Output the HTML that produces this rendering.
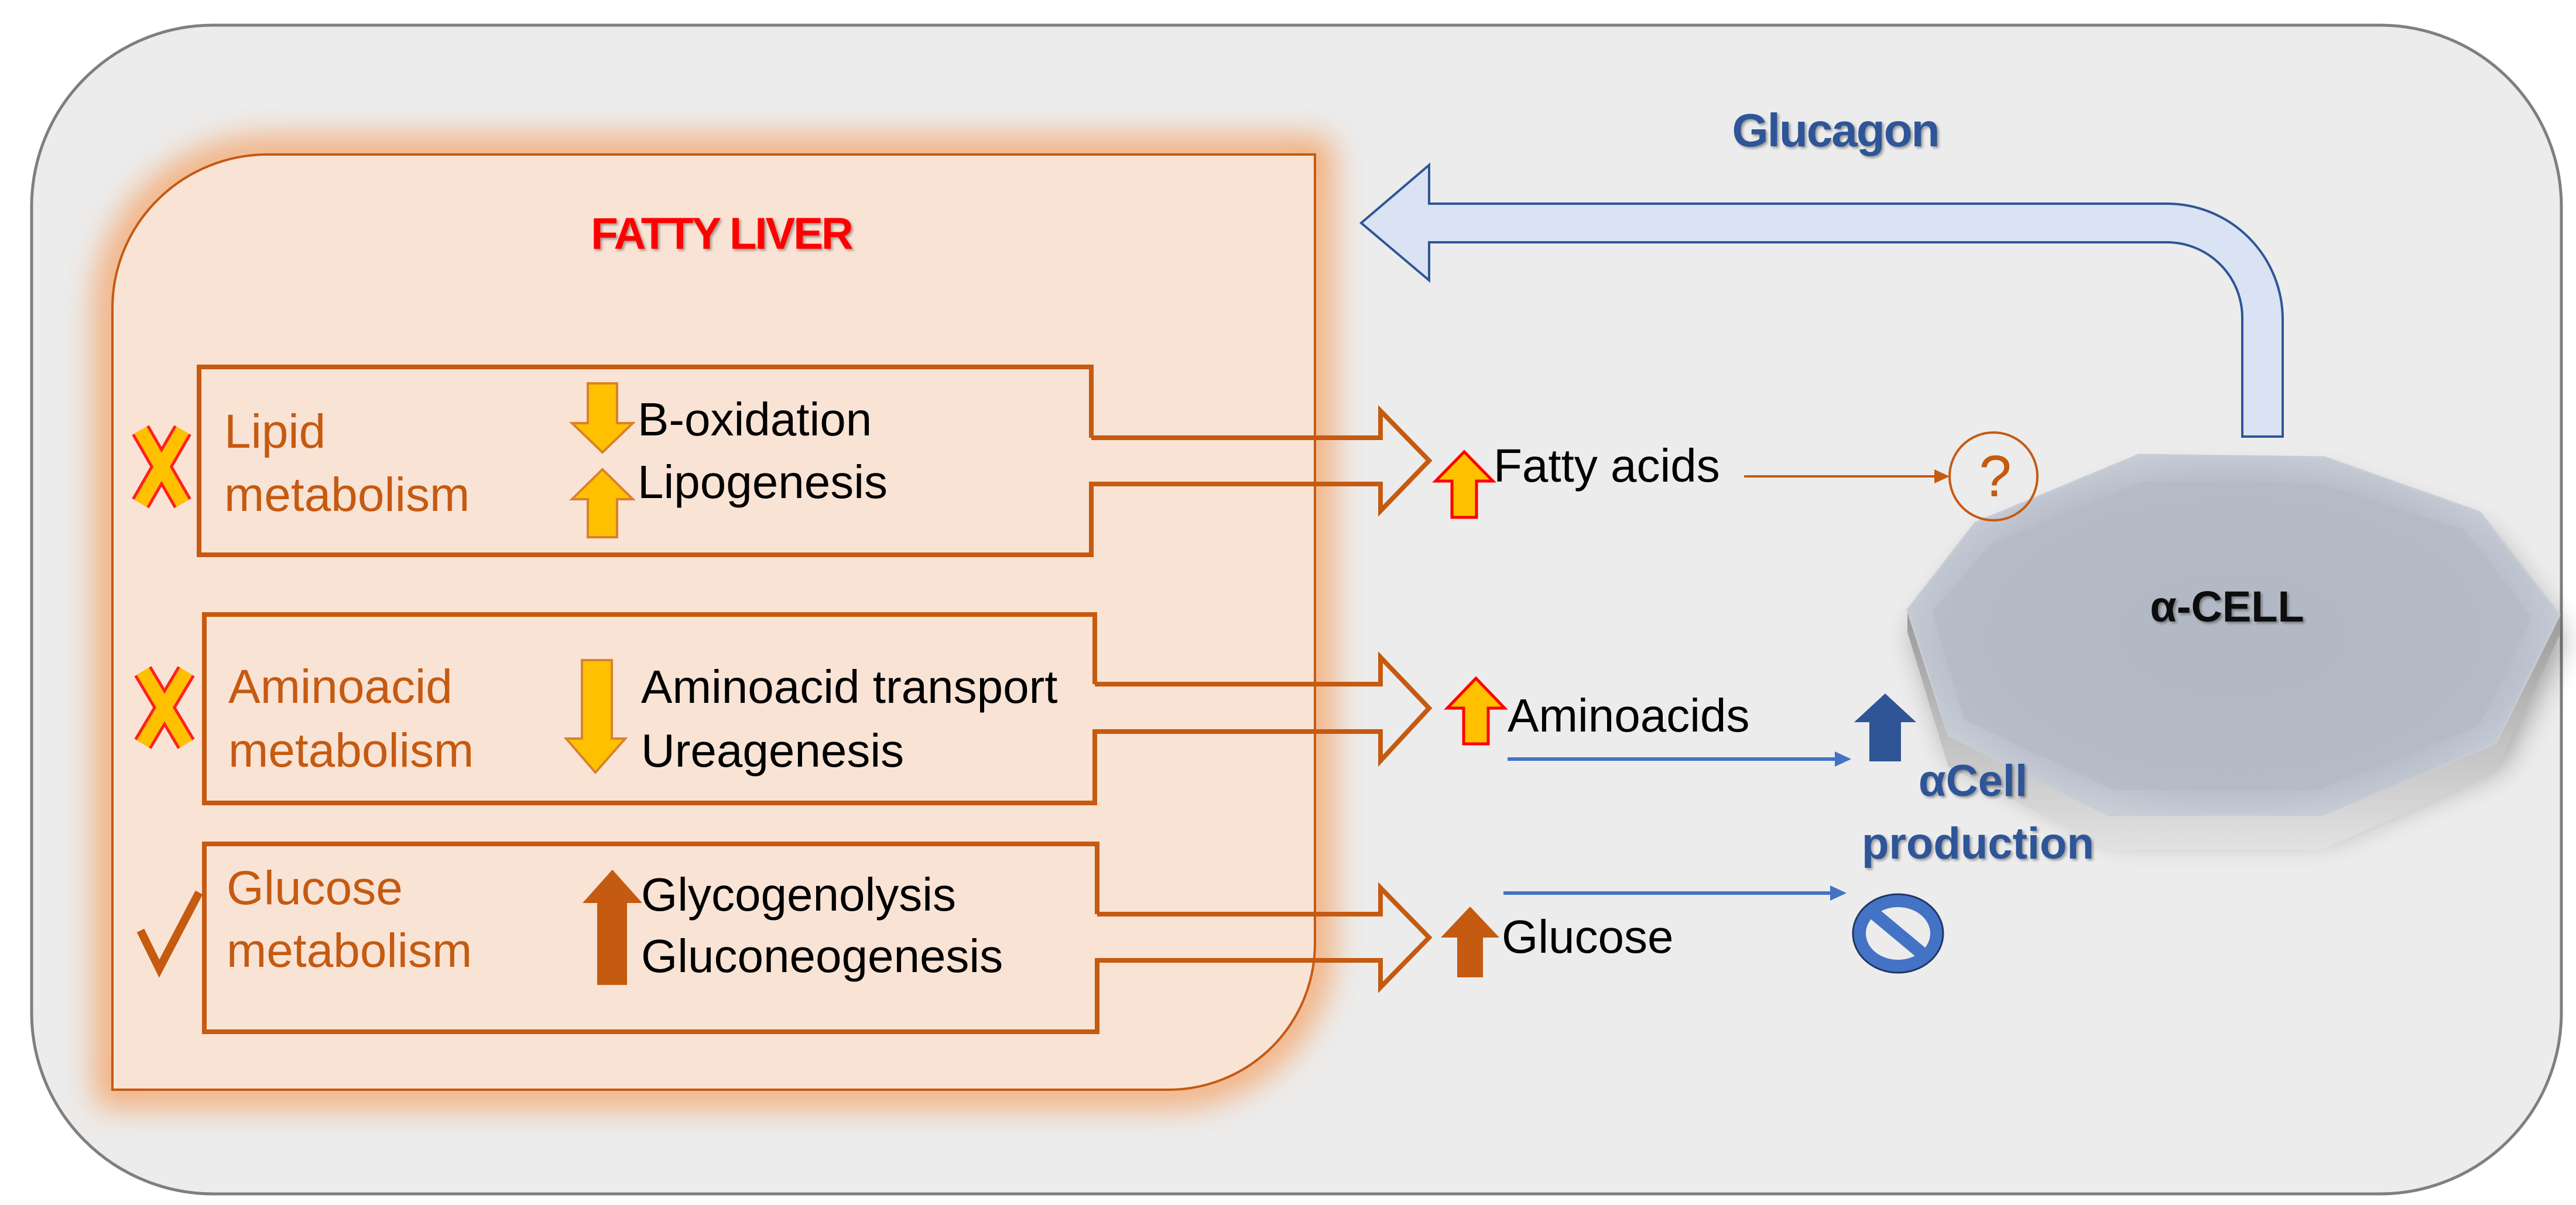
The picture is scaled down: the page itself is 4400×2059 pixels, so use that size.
<!DOCTYPE html>
<html><head><meta charset="utf-8"><style>
html,body{margin:0;padding:0;background:#fff}
svg{display:block}
text{font-family:"Liberation Sans",sans-serif}
</style></head><body>
<svg width="4400" height="2059" viewBox="0 0 4400 2059" xmlns="http://www.w3.org/2000/svg">
<defs>
<filter id="glow" x="-10%" y="-10%" width="120%" height="120%"><feGaussianBlur stdDeviation="28"/></filter>
<filter id="sh" x="-20%" y="-20%" width="140%" height="140%"><feGaussianBlur stdDeviation="25"/></filter>
<filter id="ts" x="-10%" y="-10%" width="120%" height="130%"><feDropShadow dx="3" dy="3" stdDeviation="2" flood-color="#000" flood-opacity="0.35"/></filter>
<radialGradient id="cellg" cx="50%" cy="50%" r="60%">
<stop offset="0" stop-color="#b0b6c2"/><stop offset="0.7" stop-color="#b6bcc8"/><stop offset="1" stop-color="#d6dbe4"/></radialGradient>
<linearGradient id="side" x1="0" y1="0" x2="0" y2="1"><stop offset="0" stop-color="#9a9a9a"/><stop offset="1" stop-color="#e2e2e2"/></linearGradient>
</defs>
<rect x="54" y="43" width="4321" height="1997" rx="310" ry="310" fill="#ececec" stroke="#7f7f7f" stroke-width="5"/>
<path d="M192,527 A265,263 0 0 1 457,264 H2246 V1612 A250,250 0 0 1 1996,1862 H192 Z" fill="none" stroke="#f4a66c" stroke-width="55" filter="url(#glow)"/>
<path d="M192,527 A265,263 0 0 1 457,264 H2246 V1612 A250,250 0 0 1 1996,1862 H192 Z" fill="#f9e3d5" stroke="#c55a11" stroke-width="4"/>
<text x="1232" y="425" font-size="76" font-weight="bold" fill="#ff0000" text-anchor="middle" filter="url(#ts)" letter-spacing="-3">FATTY LIVER</text>

<g fill="none" stroke="#c55a11" stroke-width="8" stroke-linejoin="miter">
<path d="M1864,748 V627 H340 V948 H1864 V827 H2358 V873 L2441,787 L2358,702 V748 H1864"/>
<path d="M1870,1169 V1050 H349 V1372 H1870 V1250 H2358 V1300 L2441,1210 L2358,1123 V1169 H1870"/>
<path d="M1874,1562 V1442 H349 V1763 H1874 V1641 H2358 V1687 L2441,1602 L2358,1517 V1562 H1874"/>
</g>

<g font-size="82" fill="#c55a11">
<text x="383" y="765">Lipid</text>
<text x="383" y="873">metabolism</text>
<text x="390" y="1201">Aminoacid</text>
<text x="390" y="1310">metabolism</text>
<text x="387" y="1545">Glucose</text>
<text x="387" y="1652">metabolism</text>
</g>
<g font-size="80" fill="#000">
<text x="1089" y="744">B-oxidation</text>
<text x="1089" y="851">Lipogenesis</text>
<text x="1095" y="1201">Aminoacid transport</text>
<text x="1095" y="1310">Ureagenesis</text>
<text x="1095" y="1556">Glycogenolysis</text>
<text x="1095" y="1661">Gluconeogenesis</text>
</g>

<path d="M1004,655 H1054 V723 H1081 L1029,773 L977,723 H1004 Z" fill="#ffc000" stroke="#d9822b" stroke-width="4"/>
<path d="M1029,802 L1081,853 H1054 V918 H1004 V853 H977 Z" fill="#ffc000" stroke="#d9822b" stroke-width="4"/>
<path d="M994,1128 H1045 V1262 H1068 L1017,1320 L967,1262 H994 Z" fill="#ffc000" stroke="#d9822b" stroke-width="4"/>
<path d="M1046,1486 L1097,1543 H1071 V1683 H1020 V1543 H995 Z" fill="#c55a11"/>

<g stroke-linecap="butt">
<path d="M240,735 L312,860 M312,735 L240,860" stroke="#ff2020" stroke-width="34"/>
<path d="M240,735 L312,860 M312,735 L240,860" stroke="#ffc000" stroke-width="24"/>
<path d="M244,1147 L318,1271 M318,1147 L244,1271" stroke="#ff2020" stroke-width="34"/>
<path d="M244,1147 L318,1271 M318,1147 L244,1271" stroke="#ffc000" stroke-width="24"/>
</g>
<path d="M240,1590 L272,1655 L340,1525" fill="none" stroke="#c55a11" stroke-width="14"/>

<path d="M2501,772 L2550,822 H2522 V884 H2480 V822 H2452 Z" fill="#ffc000" stroke="#ff0000" stroke-width="5"/>
<path d="M2521,1159 L2570,1210 H2542 V1271 H2500 V1210 H2472 Z" fill="#ffc000" stroke="#ff0000" stroke-width="5"/>
<path d="M2511,1549 L2561,1602 H2533 V1670 H2489 V1602 H2461 Z" fill="#c55a11"/>
<g font-size="80" fill="#000">
<text x="2551" y="823">Fatty acids</text>
<text x="2575" y="1250">Aminoacids</text>
<text x="2565" y="1628">Glucose</text>
</g>

<path d="M2325,381 L2441,282 L2441,348 L3701,348 A198,198 0 0 1 3899,546 L3899,746 L3830,746 L3830,543 A129,129 0 0 0 3701,414 L2441,414 L2441,479 Z" fill="#dae3f3" stroke="#2f5597" stroke-width="4"/>
<text x="3135" y="250" font-size="80" font-weight="bold" fill="#2f5597" text-anchor="middle" filter="url(#ts)" letter-spacing="-2">Glucagon</text>

<polygon points="3653,790 3970,794 4236,888 4372,1064 4263,1283 3966,1406 3602,1406 3328,1270 3258,1055 3374,906" fill="#000" opacity="0.35" filter="url(#sh)" transform="translate(10,25)"/>
<polygon points="3258,1042 3328,1257 3602,1393 3966,1393 4263,1270 4372,1051 4372,1085 4263,1320 3966,1452 3602,1452 3328,1310 3258,1080" fill="url(#side)"/>
<polygon points="3653,777 3970,781 4236,875 4372,1051 4263,1270 3966,1393 3602,1393 3328,1257 3258,1042 3374,893" fill="url(#cellg)" stroke="#c8ccd4" stroke-width="3"/>
<polygon points="3660,823 3965,826 4210,905 4325,1055 4235,1240 3960,1350 3610,1350 3355,1230 3300,1045 3400,930" fill="#b3b9c5" opacity="0.6"/>
<text x="3804" y="1062" font-size="74" font-weight="bold" fill="#111" text-anchor="middle" filter="url(#ts)">α-CELL</text>

<line x1="2979" y1="814" x2="3310" y2="814" stroke="#c55a11" stroke-width="4"/>
<path d="M3330,814 l-26,-12 v24 z" fill="#c55a11"/>
<circle cx="3405" cy="814" r="75" fill="none" stroke="#c55a11" stroke-width="4"/>
<text x="3408" y="848" font-size="100" fill="#c55a11" text-anchor="middle">?</text>

<line x1="2575" y1="1297" x2="3140" y2="1297" stroke="#4472c4" stroke-width="6"/>
<path d="M3162,1297 l-28,-13 v26 z" fill="#4472c4"/>
<line x1="2568" y1="1526" x2="3132" y2="1526" stroke="#4472c4" stroke-width="6"/>
<path d="M3154,1526 l-28,-13 v26 z" fill="#4472c4"/>
<path d="M3220,1185 L3273,1234 H3247 V1301 H3193 V1234 H3167 Z" fill="#2f5597"/>
<text x="3277" y="1360" font-size="76" font-weight="bold" fill="#2f5597" filter="url(#ts)">αCell</text>
<text x="3180" y="1467" font-size="76" font-weight="bold" fill="#2f5597" filter="url(#ts)">production</text>
<ellipse cx="3242" cy="1595" rx="66" ry="56" fill="none" stroke="#4472c4" stroke-width="22"/>
<ellipse cx="3242" cy="1595" rx="77" ry="67" fill="none" stroke="#1f3864" stroke-width="3"/>
<line x1="3200" y1="1560" x2="3284" y2="1630" stroke="#4472c4" stroke-width="22"/>
</svg>
</body></html>
